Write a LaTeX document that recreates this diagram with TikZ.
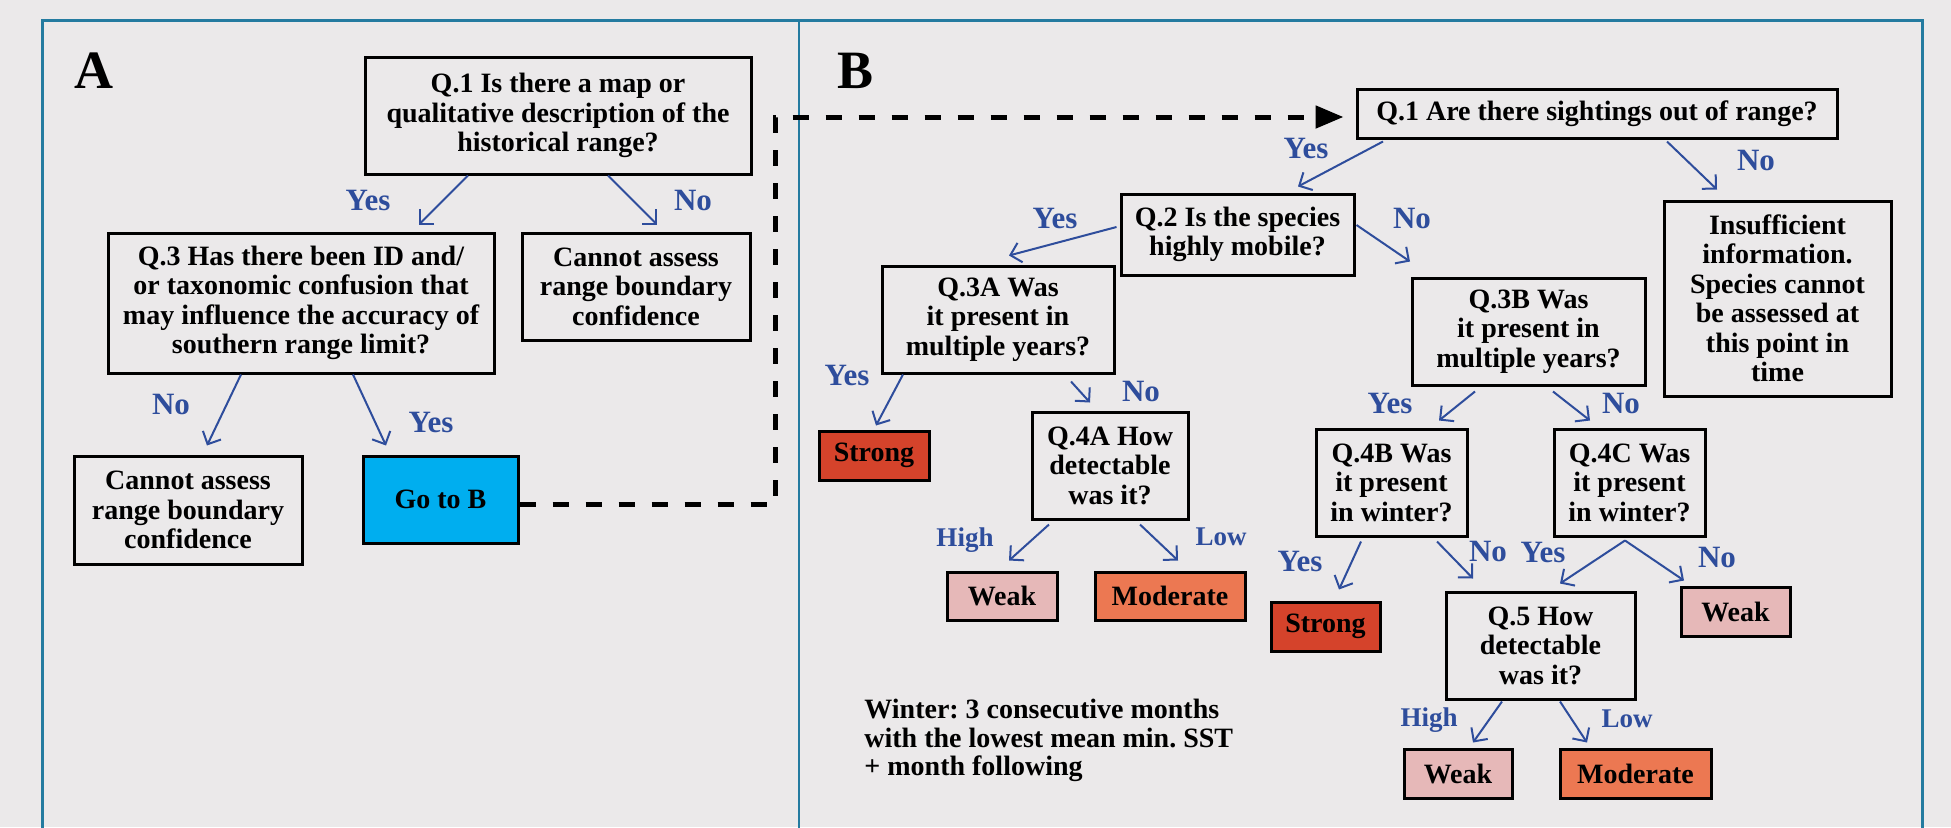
\documentclass[tikz,border=0pt]{standalone}
\usepackage{fontspec}
\setmainfont{Liberation Serif}
\usetikzlibrary{arrows.meta,calc}
\definecolor{bgc}{HTML}{EBE9EA}
\definecolor{framec}{HTML}{247BA0}
\definecolor{arrc}{HTML}{2E4D9C}
\definecolor{strongc}{HTML}{D5432B}
\definecolor{weakc}{HTML}{E6B8B8}
\definecolor{modc}{HTML}{EC7852}
\definecolor{gobc}{HTML}{00AEEF}
\frenchspacing
\begin{document}
\begin{tikzpicture}[x=0.5pt,y=-0.5pt,
  box/.style={draw=black,line width=1.5pt,rectangle,inner sep=0pt,align=center,
    font=\bfseries\fontsize{14}{14.75}\selectfont},
  arr/.style={draw=arrc,line width=1pt,-{Straight Barb[length=5pt,width=10pt]}},
  lab/.style={text=arrc,inner sep=0pt,font=\bfseries\fontsize{15.5}{16}\selectfont},
  lab2/.style={text=arrc,inner sep=0pt,font=\bfseries\fontsize{13.5}{14}\selectfont},
  panel/.style={inner sep=0pt,font=\bfseries\fontsize{27}{28}\selectfont},
  dashlink/.style={draw=black,line width=2.5pt,dash pattern=on 8pt off 8.5pt,
    -{Triangle[length=14pt,width=11pt]}}
]
\useasboundingbox (0,0) rectangle (1951,827);
\clip (0,0) rectangle (1951,827);
\fill[bgc] (0,0) rectangle (1951,827);
% frame
\draw[framec,line width=1.75pt] (42.5,850) -- (42.5,20.5) -- (1922.5,20.5) -- (1922.5,850);
\draw[framec,line width=1pt] (799,20.5) -- (799,850);

% panel labels
\node[panel] (pA) at (94,71) {A};
\node[panel] (pB) at (855.5,70.5) {B};

% ---- Panel A ----
\node[box,minimum width=193pt,minimum height=58.5pt] (qa1) at (558,115.5)
  {Q.1 Is there a map or\\qualitative description of the\\historical range?};
\node[box,minimum width=193pt,minimum height=70pt] (qa3) at (301,303)
  {Q.3 Has there been ID and/\\or taxonomic confusion that\\may influence the accuracy of\\southern range limit?};
\node[box,minimum width=114pt,minimum height=53.5pt] (ca1) at (636,286.5)
  {Cannot assess\\range boundary\\confidence};
\node[box,minimum width=114pt,minimum height=54pt] (ca2) at (188,510)
  {Cannot assess\\range boundary\\confidence};
\node[box,fill=gobc,minimum width=77.5pt,minimum height=43.5pt] (gob) at (440.5,499.5) {Go to B};

\draw[arr] ($(qa1.south)+(-90,0)$) -- ($(qa3.north)+(118,-7)$);
\draw[arr] ($(qa1.south)+(50,0)$) -- ($(ca1.north)+(21,-7)$);
\draw[arr] ($(qa3.south)+(-60,0)$) -- ($(ca2.north)+(19,-9)$);
\draw[arr] ($(qa3.south)+(52,0)$) -- ($(gob.north)+(-54.5,-9)$);

\node[lab] (la1) at (368,200) {Yes};
\node[lab] (la2) at (693,200) {No};
\node[lab] (la3) at (171,404) {No};
\node[lab] (la4) at (431,422) {Yes};

% ---- Panel B ----
\node[box,minimum width=240pt,minimum height=24.5pt] (qb1) at (1597,113.5)
  {Q.1 Are there sightings out of range?};
\node[box,minimum width=116.5pt,minimum height=40.5pt] (qb2) at (1237.5,234.5)
  {Q.2 Is the species\\highly mobile?};
\node[box,minimum width=113.5pt,minimum height=97.5pt] (ins) at (1777.5,298.5)
  {Insufficient\\information.\\Species cannot\\be assessed at\\this point in\\time};
\node[box,minimum width=116pt,minimum height=53.5pt] (q3a) at (998,319.5)
  {Q.3A Was\\it present in\\multiple years?};
\node[box,minimum width=116.5pt,minimum height=53.5pt] (q3b) at (1528.5,331.5)
  {Q.3B Was\\it present in\\multiple years?};
\node[box,fill=strongc,minimum width=55pt,minimum height=24.5pt] (st1) at (874,455.5) {Strong};
\node[box,minimum width=78pt,minimum height=53.5pt] (q4a) at (1110,465.5)
  {Q.4A How\\detectable\\was it?};
\node[box,fill=weakc,minimum width=55pt,minimum height=24pt] (wk1) at (1002,596) {Weak};
\node[box,fill=modc,minimum width=75pt,minimum height=24pt] (md1) at (1170,596) {Moderate};
\node[box,minimum width=75.5pt,minimum height=53.5pt] (q4b) at (1391.5,482.5)
  {Q.4B Was\\it present\\in winter?};
\node[box,minimum width=75.5pt,minimum height=53.5pt] (q4c) at (1629.5,482.5)
  {Q.4C Was\\it present\\in winter?};
\node[box,fill=strongc,minimum width=54.5pt,minimum height=24.5pt] (st2) at (1325.5,626.5) {Strong};
\node[box,minimum width=94.5pt,minimum height=53.5pt] (q5) at (1540.5,645.5)
  {Q.5 How\\detectable\\was it?};
\node[box,fill=weakc,minimum width=54.5pt,minimum height=24.5pt] (wk2) at (1735.5,611.5) {Weak};
\node[box,fill=weakc,minimum width=54pt,minimum height=24.5pt] (wk3) at (1458,773.5) {Weak};
\node[box,fill=modc,minimum width=75.5pt,minimum height=24.5pt] (md2) at (1635.5,773.5) {Moderate};

% dashed link A -> B
\coordinate (d1) at (775,504);
\coordinate (d2) at (775,117);
\draw[dashlink] ($(gob.east)+(0,4.5)$) -- (d1) -- (d2) -- ($(qb1.west |- d2)+(-12,0)$);

% arrows B
\draw[arr] ($(qb1.south)+(-214,2)$) -- ($(qb2.north)+(60.5,-6)$);
\draw[arr] ($(qb1.south)+(70,2)$) -- ($(ins.north)+(-60.5,-10)$);
\draw[arr] ($(qb2.west)+(-3,-7.5)$) -- ($(q3a.north)+(11,-9)$);
\draw[arr] ($(qb2.east)+(1,-9.5)$) -- ($(q3b.north)+(-118.5,-15)$);
\draw[arr] ($(q3a.south)+(-95,0)$) -- ($(st1.north)+(2,-4)$);
\draw[arr] ($(q3a.south)+(73,7)$) -- ($(q4a.north)+(-20,-8)$);
\draw[arr] ($(q4a.south)+(-61,4)$) -- ($(wk1.north)+(7,-10)$);
\draw[arr] ($(q4a.south)+(30,4)$) -- ($(md1.north)+(8,-10)$);
\draw[arr] ($(q3b.south)+(-53.5,5)$) -- ($(q4b.north)+(47.5,-7)$);
\draw[arr] ($(q3b.south)+(24.5,5)$) -- ($(q4c.north)+(-39.5,-7)$);
\draw[arr] ($(q4b.south)+(-30.5,4)$) -- ($(st2.north)+(13.5,-11)$);
\draw[arr] ($(q4b.south)+(45.5,4)$) -- ($(q5.north)+(-67.5,-12)$);
\coordinate (split) at ($(q4c.south)+(-4.5,3)$);
\draw[arr] (split) -- ($(q5.north)+(19.5,-7)$);
\draw[arr] (split) -- ($(wk2.north)+(-51.5,-5)$);
\draw[arr] ($(q5.south)+(-38.5,1)$) -- ($(wk3.north)+(15,-5)$);
\draw[arr] ($(q5.south)+(19.5,1)$) -- ($(md2.north)+(-48.5,-5)$);

\node[lab] (lb1) at (1306,148) {Yes};
\node[lab] (lb2) at (1756,160) {No};
\node[lab] (lb3) at (1055,218) {Yes};
\node[lab] (lb4) at (1412,218) {No};
\node[lab] (lb5) at (847,375) {Yes};
\node[lab] (lb6) at (1141,391) {No};
\node[lab] (lb7) at (1390,403) {Yes};
\node[lab] (lb8) at (1621,403) {No};
\node[lab2] (lb9) at (965,540) {High};
\node[lab2] (lb10) at (1221,537) {Low};
\node[lab] (lb11) at (1300,561) {Yes};
\node[lab] (lb12) at (1488,551) {No};
\node[lab] (lb13) at (1543,552) {Yes};
\node[lab] (lb14) at (1717,557) {No};
\node[lab2] (lb15) at (1429,720) {High};
\node[lab2] (lb16) at (1627,719) {Low};

\node[anchor=north west,align=left,inner sep=0pt,font=\bfseries\fontsize{14}{14.25}\selectfont] (note) at (864,699)
  {Winter: 3 consecutive months\\with the lowest mean min. SST\\+ month following};
\end{tikzpicture}
\end{document}
